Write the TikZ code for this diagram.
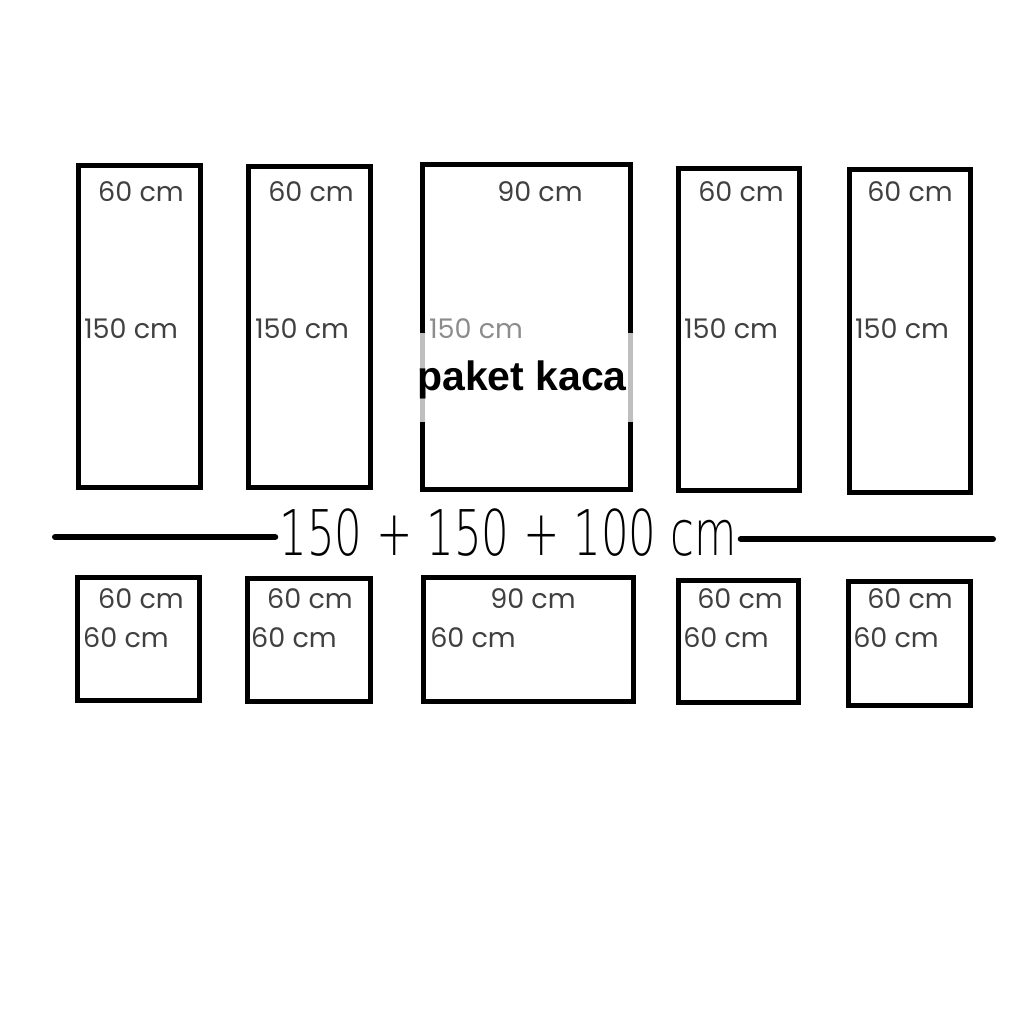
\documentclass[tikz,border=0pt]{standalone}
\usepackage{fontspec}
\setmainfont{Poppins}
\newfontfamily\boldfont{Liberation Sans}
\newfontfamily\thinfont{DejaVu Sans ExtraLight}
\begin{document}
\begin{tikzpicture}[x=1pt,y=-1pt,
  frame/.style={draw=black, line width=5pt, inner sep=0pt, minimum width=#1},
  lbl/.style={text=black!75, font=\fontsize{27}{27}\selectfont, inner sep=0pt, anchor=center},
  rule/.style={line width=6pt, line cap=round}]
\useasboundingbox[fill=white] (0,0) rectangle (1024,1024);
% top row
\node[frame=122pt, minimum height=322pt] (t1) at (139.5,326.5) {};
\node[frame=122pt, minimum height=321pt] (t2) at (309.5,327) {};
\node[frame=208pt, minimum height=325pt] (t3) at (526.5,327) {};
\node[frame=121pt, minimum height=322pt] (t4) at (739,329.5) {};
\node[frame=121pt, minimum height=323pt] (t5) at (910,331) {};
% bottom row
\node[frame=122pt, minimum height=123pt] (b1) at (138.5,639) {};
\node[frame=123pt, minimum height=123pt] (b2) at (309,640) {};
\node[frame=210pt, minimum height=124pt] (b3) at (528.5,639.5) {};
\node[frame=120pt, minimum height=122pt] (b4) at (738.5,641.5) {};
\node[frame=122pt, minimum height=124pt] (b5) at (909.5,643.5) {};
% top labels
\node[lbl] (t1w) at (141,192) {60 cm};
\node[lbl] (t2w) at (311,192) {60 cm};
\node[lbl] (t3w) at (540,192) {90 cm};
\node[lbl] (t4w) at (741,192) {60 cm};
\node[lbl] (t5w) at (910,192) {60 cm};
\node[lbl] (t1h) at (131,329) {150 cm};
\node[lbl] (t2h) at (302,329) {150 cm};
\node[lbl] (t4h) at (731,329) {150 cm};
\node[lbl] (t5h) at (902,329) {150 cm};
% overlay for paket kaca
\fill[white, opacity=0.75] (414,333) rectangle (636,422);
\node[lbl, text=black!45] (t3h) at (476,329) {150 cm};
\node[font=\boldfont\bfseries\fontsize{41}{41}\selectfont, inner sep=0pt] (pk) at (522,380) {paket kaca};
% bottom labels
\node[lbl] (b1w) at (141,599) {60 cm};
\node[lbl] (b2w) at (310,599) {60 cm};
\node[lbl] (b3w) at (533,599) {90 cm};
\node[lbl] (b4w) at (740,599) {60 cm};
\node[lbl] (b5w) at (910,599) {60 cm};
\node[lbl] (b1h) at (126,638) {60 cm};
\node[lbl] (b2h) at (294,638) {60 cm};
\node[lbl] (b3h) at (473,638) {60 cm};
\node[lbl] (b4h) at (726,638) {60 cm};
\node[lbl] (b5h) at (896,638) {60 cm};
% total line
\node[text=black, font=\thinfont\fontsize{63}{63}\selectfont, inner sep=0pt] (total) at (508,533) {\scalebox{0.69}[1]{150 + 150 + 100 cm}};
\coordinate (lend) at (55,537);
\coordinate (rend) at (993,539);
\draw[rule] (lend) -- ([xshift=-4pt]lend -| total.west);
\draw[rule] ([xshift=4pt]rend -| total.east) -- (rend);
\end{tikzpicture}
\end{document}
